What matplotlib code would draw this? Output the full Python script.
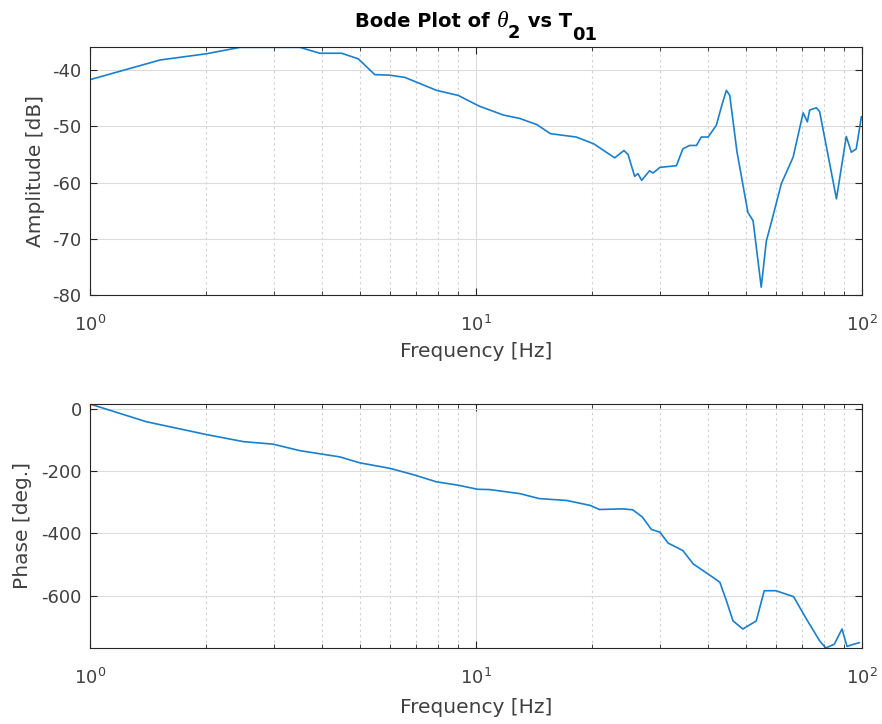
import matplotlib
matplotlib.use('Agg')
import matplotlib.pyplot as plt
from matplotlib.transforms import IdentityTransform
import numpy as np

# amplitude curve
amp_freq = [1.0, 1.52, 2.0, 2.45, 3.5, 3.94, 4.49, 4.96, 5.47, 5.98, 6.55, 7.91, 9.0,
            10.2, 11.8, 13.0, 14.4, 15.6, 18.2, 20.2, 22.9, 24.2, 24.8, 25.8, 26.3, 26.9,
            28.2, 28.8, 30.0, 33.1, 34.4, 35.8, 37.3, 38.4, 40.0, 42.0, 43.5, 44.6, 45.5,
            47.5, 50.7, 52.3, 54.9, 56.6, 58.3, 61.9, 66.4, 70.5, 72.3, 73.3, 76.3, 77.8,
            82.0, 86.0, 91.2, 94.0, 96.8, 99.8]
amp_db = [-41.7, -38.2, -37.1, -35.95, -35.95, -37.0, -37.0, -38.0, -40.8, -40.9, -41.3,
          -43.6, -44.5, -46.4, -48.0, -48.6, -49.7, -51.3, -51.9, -53.1, -55.6, -54.3,
          -55.0, -58.9, -58.4, -59.6, -57.9, -58.3, -57.3, -57.0, -54.0, -53.4, -53.4,
          -51.9, -51.9, -49.8, -46.0, -43.6, -44.5, -54.5, -65.3, -66.8, -78.6, -70.4,
          -67.1, -60.2, -55.5, -47.6, -49.2, -47.1, -46.7, -47.4, -55.5, -62.9, -51.8,
          -54.6, -54.0, -48.3]

# phase curve
ph_freq = [1.0, 1.40, 2.0, 2.50, 2.98, 3.5, 4.44, 5.0, 6.0, 6.88, 7.9, 9.0, 10.1, 10.86,
           13.0, 14.6, 17.2, 19.8, 20.9, 24.0, 25.5, 27.0, 28.5, 30.0, 31.5, 34.4, 36.6,
           40.5, 42.9, 44.6, 46.4, 49.2, 53.3, 55.9, 59.9, 66.6, 71.5, 77.8, 80.7, 84.9,
           88.9, 91.6, 94.1, 98.5]
ph_deg = [16, -41, -82, -105, -113, -134, -154, -173, -191, -211, -234, -245, -258, -259,
          -272, -288, -294, -310, -323, -321, -324, -347, -387, -396, -431, -455, -498,
          -535, -557, -616, -681, -707, -681, -584, -584, -603, -670, -745, -768, -756,
          -707, -763, -758, -751]

plt.rcParams['font.family'] = ['DejaVu Sans']
plt.rcParams['mathtext.fontset'] = 'dejavusans'
plt.rcParams['axes.unicode_minus'] = False

txt = '#262626'
tick_col = '#404040'
line_col = '#1a7fcc'

fig = plt.figure(figsize=(8.82, 7.24), dpi=100)
ax1 = fig.add_axes([0.102, 0.5925, 0.875, 0.3425])
ax2 = fig.add_axes([0.102, 0.105, 0.875, 0.337])


def style(ax):
    ax.set_xscale('log')
    ax.set_xlim(1, 100)
    ax.grid(True, which='major', color='#dcdcdc', linewidth=0.8, linestyle='-')
    ax.grid(True, which='minor', axis='x', color='#cfcfcf', linewidth=0.8, linestyle=(0, (2, 3)))
    ax.set_axisbelow(True)
    ax.tick_params(which='both', direction='in', top=True, right=True, color=txt,
                   labelcolor=tick_col, labelsize=13, length=5)
    ax.tick_params(which='minor', length=3)
    ax.tick_params(axis='x', pad=14)
    ax.tick_params(axis='y', pad=6)
    for s in ax.spines.values():
        s.set_color(txt)
        s.set_linewidth(0.8)
    ax.set_xlabel('Frequency [Hz]', fontsize=14.5, color=tick_col)


ax1.plot(amp_freq, amp_db, color=line_col, linewidth=1.2)
style(ax1)
ax1.set_ylim(-80, -35.9)
ax1.set_yticks([-80, -70, -60, -50, -40])
ax1.set_ylabel('Amplitude [dB]', fontsize=14.5, color=tick_col)
ax1.xaxis.set_label_coords(0.5, -0.19)
ax1.yaxis.set_label_coords(-0.058, 0.5)

ax2.plot(ph_freq, ph_deg, color=line_col, linewidth=1.2)
style(ax2)
ax2.set_ylim(-768, 16)
ax2.set_yticks([-600, -400, -200, 0])
ax2.set_ylabel('Phase [deg.]', fontsize=14.5, color=tick_col)
ax2.xaxis.set_label_coords(0.5, -0.205)
ax2.yaxis.set_label_coords(-0.075, 0.5)

# title built piece by piece (MATLAB style low subscripts), centred over the axes
title_parts = [('Bode Plot of ', 0), ('\u03b8', 0), ('2', -11), (' vs T', 0), ('01', -13)]
fig.canvas.draw()
renderer = fig.canvas.get_renderer()
W, H = fig.bbox.width, fig.bbox.height
base_y = H - 27
pieces = []
x = 0.0
for s, dy in title_parts:
    if s == '\u03b8':
        kw = dict(fontsize=17, fontstyle='italic', family='Liberation Serif')
    elif dy != 0:
        kw = dict(fontsize=13, fontweight='bold')
    else:
        kw = dict(fontsize=14, fontweight='bold')
    t = fig.text(x, base_y + dy, s, transform=IdentityTransform(), va='baseline', ha='left',
                 color='black', **kw)
    ext = t.get_window_extent(renderer)
    pieces.append(t)
    x = ext.x1
total = x
centre = ax1.get_window_extent(renderer).x0 + ax1.get_window_extent(renderer).width / 2
shift = centre - total / 2
for t in pieces:
    px, py = t.get_position()
    t.set_position((px + shift, py))

fig.savefig('out.png', dpi=100)
